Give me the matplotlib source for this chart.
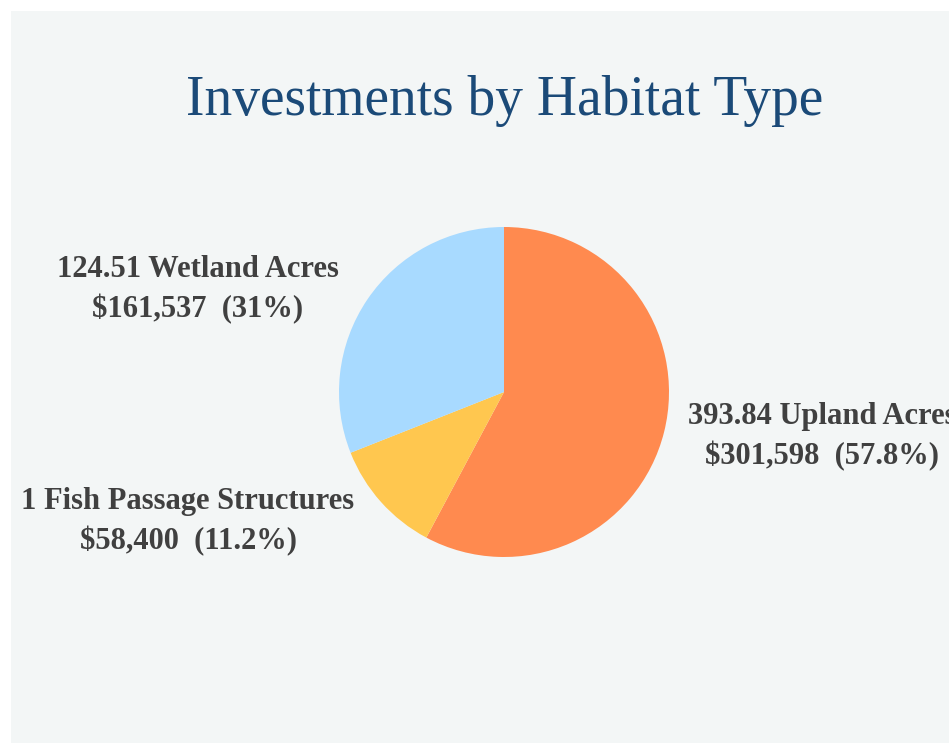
import matplotlib.pyplot as plt
from matplotlib.patches import Rectangle

categories = ["393.84 Upland Acres", "1 Fish Passage Structures", "124.51 Wetland Acres"]
amounts = ["$301,598", "$58,400", "$161,537"]
shares = [57.8, 11.2, 31.0]
share_labels = ["57.8%", "11.2%", "31%"]
colors = ["#FF8A4F", "#FFC74F", "#A8DAFF"]

W, H = 949, 744
fig = plt.figure(figsize=(W / 100, H / 100), dpi=100, facecolor="white")

# light gray slide panel with a thin white margin top/left
fig.patches.append(Rectangle((11 / W, 1 / H), 1, (H - 12) / H, transform=fig.transFigure,
                             facecolor="#F3F6F6", edgecolor="none", zorder=-1))

fig.text(505 / W, 1 - 101 / H, "Investments by Habitat Type", ha="center", va="center",
         fontsize=40, color="#1B4A78", family="Liberation Serif")

# pie axes: centre (504, 392) px, radius 165 px
r = 165
ax = fig.add_axes([(504 - r) / W, 1 - (392 + r) / H, 2 * r / W, 2 * r / H])
ax.set_zorder(2)
ax.patch.set_visible(False)
ax.pie(shares, colors=colors, startangle=90, counterclock=False, radius=1,
       wedgeprops=dict(linewidth=0))
ax.set_xlim(-1, 1)
ax.set_ylim(-1, 1)
ax.set_aspect("equal")
ax.axis("off")

label_pos = [(822, 437), (188, 522), (198, 290)]
for (x, y), cat, amt, pct in zip(label_pos, categories, amounts, share_labels):
    fig.text(x / W, 1 - y / H, f"{cat}\n{amt}  ({pct})", ha="center", va="center",
             fontsize=22, fontweight="bold", color="#404040", family="Liberation Serif",
             linespacing=1.42)

fig.savefig("out.png", dpi=100, facecolor=fig.get_facecolor())
